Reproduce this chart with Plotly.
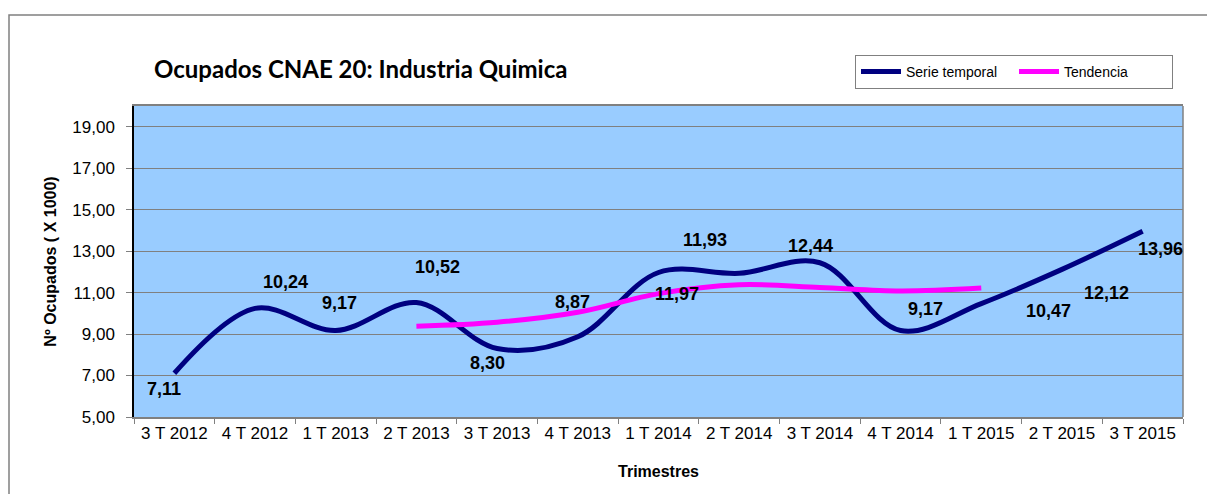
import plotly.graph_objects as go

categories = ["3 T 2012", "4 T 2012", "1 T 2013", "2 T 2013", "3 T 2013", "4 T 2013",
              "1 T 2014", "2 T 2014", "3 T 2014", "4 T 2014", "1 T 2015", "2 T 2015", "3 T 2015"]
serie_temporal = [7.11, 10.24, 9.17, 10.52, 8.30, 8.87, 11.97, 11.93, 12.44, 9.17, 10.47, 12.12, 13.96]
tendencia = [None, None, None, 9.38, 9.57, 10.05, 10.95, 11.38, 11.25, 11.08, 11.22, None, None]
label_text = ["7,11", "10,24", "9,17", "10,52", "8,30", "8,87", "11,97", "11,93", "12,44",
              "9,17", "10,47", "12,12", "13,96"]
# label offsets in pixels (dx right, dy down) as placed in the original chart
label_dx = [-10, 30, 4, 21, -10, -5, 18, -34, -9, 25, 67, 45, 18]
label_dy = [16, -26, -28, -36, 14, -35, 22, -33, -17, -22, 7, 24, 18]
y_ticks = [5, 7, 9, 11, 13, 15, 17, 19]

fig = go.Figure()
fig.add_trace(go.Scatter(x=categories, y=serie_temporal, mode="lines", name="Serie temporal",
                         line=dict(color="#000080", width=5, shape="spline", smoothing=1.0),
                         hoverinfo="skip"))
fig.add_trace(go.Scatter(x=categories, y=tendencia, mode="lines", name="Tendencia",
                         line=dict(color="#FF00FF", width=5, shape="spline", smoothing=1.0),
                         hoverinfo="skip"))

for c, v, t, dx, dy in zip(categories, serie_temporal, label_text, label_dx, label_dy):
    fig.add_annotation(x=c, y=v, text="<b>" + t + "</b>", showarrow=False, xshift=dx, yshift=-dy,
                       font=dict(family="Arial, Liberation Sans", size=18, color="black"))

fig.update_layout(
    width=1207, height=494,
    margin=dict(l=134, r=24, t=106, b=77, autoexpand=False),
    paper_bgcolor="white",
    plot_bgcolor="#99CCFF",
    separators=",.",
    font=dict(family="Arial, Liberation Sans", color="black"),
    title=dict(text="<b>Ocupados CNAE 20: Industria Quimica</b>",
               font=dict(family="Lato", size=24, color="black"),
               x=154 / 1207, xanchor="left", xref="container",
               y=1 - 70 / 494, yanchor="middle", yref="container"),
    showlegend=True,
    legend=dict(orientation="h", x=(855 - 134) / 1049, xanchor="left",
                y=1 + (106 - 55) / 311, yanchor="top",
                bordercolor="#808080", borderwidth=1, bgcolor="white",
                font=dict(family="Arial, Liberation Sans", size=14, color="black"),
                entrywidth=103, entrywidthmode="pixels", itemwidth=40,
                valign="middle"),
    xaxis=dict(type="category", range=[-0.5, len(categories) - 0.5], autorange=False,
               showgrid=False, showline=True, linecolor="#808080",
               linewidth=1.5, mirror=True, ticks="outside", tickson="boundaries",
               ticklen=5, tickcolor="#808080",
               tickfont=dict(family="Arial, Liberation Sans", size=17, color="black"),
               title=dict(text="<b>Trimestres</b>", standoff=24,
                          font=dict(family="Arial, Liberation Sans", size=16, color="black")),
               fixedrange=True),
    yaxis=dict(range=[5, 20], autorange=False, tickvals=y_ticks, tickformat=".2f",
               showgrid=True, gridcolor="#808080", gridwidth=1,
               showline=True, linecolor="black", linewidth=1.5,
               ticks="outside", ticklen=6, tickcolor="#808080", ticklabelstandoff=8,
               tickfont=dict(family="Arial, Liberation Sans", size=17, color="black"),
               zeroline=False,
               title=dict(text="<b>Nº Ocupados ( X 1000)</b>", standoff=12,
                          font=dict(family="Arial, Liberation Sans", size=16, color="black")),
               fixedrange=True),
)

# right border of the plot area
fig.add_shape(type="line", xref="paper", yref="paper", x0=1, x1=1, y0=0, y1=1,
              line=dict(color="#808080", width=1.5))
# outer chart frame
fig.add_shape(type="rect", xref="paper", yref="paper",
              x0=(9 - 134) / 1049, x1=1.2,
              y0=-0.5, y1=(417 - 15) / 311,
              line=dict(color="#808080", width=1.5), fillcolor="rgba(0,0,0,0)")

fig.write_html("out.html", config={"displayModeBar": False},
               post_script="document.body.style.margin='0';")
